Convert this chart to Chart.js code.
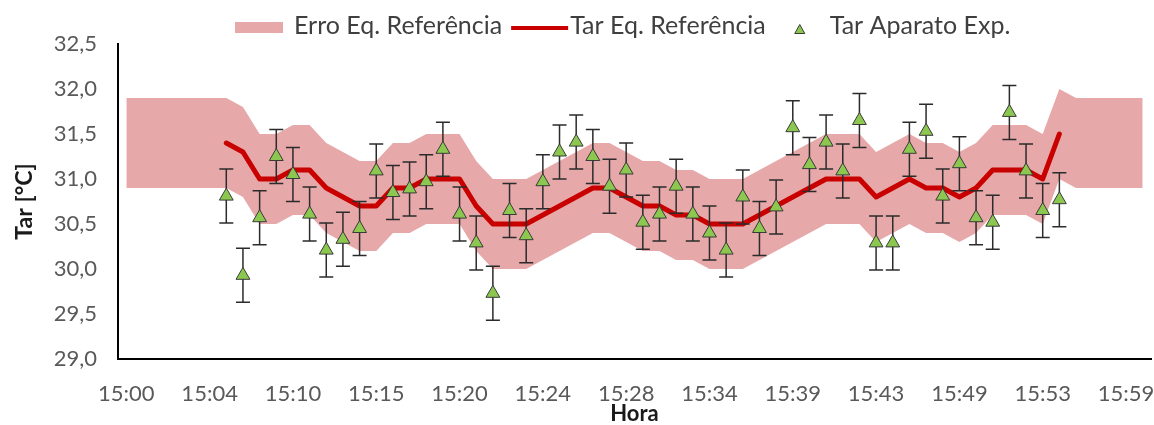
<!DOCTYPE html>
<html>
<head>
<meta charset="utf-8">
<title>Tar – Eq. Referência x Aparato Exp.</title>
<script src="https://cdn.jsdelivr.net/npm/chart.js@4.4.1/dist/chart.umd.min.js"></script>
<style>
  html, body { margin: 0; padding: 0; background: #fff; }
  #wrap { width: 1154px; height: 425px; }
</style>
</head>
<body>
<div id="wrap"><canvas id="chart" width="1154" height="425"></canvas></div>
<script>
// Time labels shown on the horizontal axis (one every 5 samples)
const tickLabels = ['15:00', '15:04', '15:10', '15:15', '15:20', '15:24', '15:28',
                    '15:34', '15:39', '15:43', '15:49', '15:53', '15:59'];
const samplesPerLabel = 5;
const sampleCount = 62;

// Sample at which both measurement series start
const firstSample = 6;

// Reference equipment air temperature (°C)
const refTemp = [31.4, 31.3, 31.0, 31.0, 31.1, 31.1, 30.9, 30.8, 30.7, 30.7,
                 30.9, 30.9, 31.0, 31.0, 31.0, 30.7, 30.5, 30.5, 30.5, 30.6,
                 30.7, 30.8, 30.9, 30.9, 30.8, 30.7, 30.7, 30.6, 30.6, 30.5,
                 30.5, 30.5, 30.6, 30.7, 30.8, 30.9, 31.0, 31.0, 31.0, 30.8,
                 30.9, 31.0, 30.9, 30.9, 30.8, 30.9, 31.1, 31.1, 31.1, 31.0,
                 31.5];

// Experimental apparatus air temperature (°C)
const expTemp = [30.81, 29.93, 30.57, 31.25, 31.05, 30.61, 30.21, 30.33, 30.45, 31.09,
                 30.85, 30.89, 30.97, 31.33, 30.61, 30.29, 29.73, 30.65, 30.37, 30.97,
                 31.30, 31.41, 31.25, 30.92, 31.10, 30.52, 30.61, 30.92, 30.61, 30.40,
                 30.21, 30.80, 30.45, 30.69, 31.57, 31.16, 31.41, 31.09, 31.65, 30.29,
                 30.29, 31.33, 31.53, 30.81, 31.17, 30.57, 30.52, 31.74, 31.09, 30.65,
                 30.77];

// Uncertainty of the experimental apparatus (± °C)
const expError = 0.3;

// Uncertainty band of the reference equipment (lower / upper limits, °C)
const bandLow = [30.9, 30.9, 30.9, 30.9, 30.9, 30.9,
                 30.9, 30.8, 30.5, 30.5, 30.6, 30.6, 30.4, 30.3, 30.2, 30.2,
                 30.4, 30.4, 30.5, 30.5, 30.5, 30.2, 30.0, 30.0, 30.0, 30.1,
                 30.2, 30.3, 30.4, 30.4, 30.3, 30.2, 30.2, 30.1, 30.1, 30.0,
                 30.0, 30.0, 30.1, 30.2, 30.3, 30.4, 30.5, 30.5, 30.5, 30.3,
                 30.4, 30.5, 30.4, 30.4, 30.3, 30.4, 30.6, 30.6, 30.6, 30.5,
                 31.0,
                 30.9, 30.9, 30.9, 30.9, 30.9];
const bandHigh = [31.9, 31.9, 31.9, 31.9, 31.9, 31.9,
                  31.9, 31.8, 31.5, 31.5, 31.6, 31.6, 31.4, 31.3, 31.2, 31.2,
                  31.4, 31.4, 31.5, 31.5, 31.5, 31.2, 31.0, 31.0, 31.0, 31.1,
                  31.2, 31.3, 31.4, 31.4, 31.3, 31.2, 31.2, 31.1, 31.1, 31.0,
                  31.0, 31.0, 31.1, 31.2, 31.3, 31.4, 31.5, 31.5, 31.5, 31.3,
                  31.4, 31.5, 31.4, 31.4, 31.3, 31.4, 31.6, 31.6, 31.6, 31.5,
                  32.0,
                  31.9, 31.9, 31.9, 31.9, 31.9];

// Legend entries, in display order
const legendEntries = [
  { text: 'Erro Eq. Referência', symbol: 'band' },
  { text: 'Tar Eq. Referência', symbol: 'line' },
  { text: 'Tar Aparato Exp.', symbol: 'mark' }
];

// Colours
const BAND_COLOR = '#E7A8AA';
const LINE_COLOR = '#C80000';
const MARK_COLOR = '#8CC84F';
const MARK_EDGE = '#3a3a3a';
const BAR_COLOR = '#2b2b2b';
const LEGEND_TEXT = '#3f3f3f';
const FONT = 'Lato, "Open Sans", sans-serif';

Chart.defaults.font.family = FONT;

const toPoints = (values, start) => values.map((v, i) => ({ x: start + i, y: v }));

function drawTriangle(ctx, cx, cy, w, h) {
  ctx.beginPath();
  ctx.moveTo(cx, cy - h / 2);
  ctx.lineTo(cx + w / 2, cy + h / 2);
  ctx.lineTo(cx - w / 2, cy + h / 2);
  ctx.closePath();
  ctx.fillStyle = MARK_COLOR;
  ctx.fill();
  ctx.strokeStyle = MARK_EDGE;
  ctx.lineWidth = 1;
  ctx.stroke();
}

// Vertical error bars with caps, drawn just below the triangle markers
const errorBars = {
  id: 'errorBars',
  beforeDatasetDraw(chart, args) {
    if (args.index !== 3) return;
    const { ctx, scales: { x, y } } = chart;
    const cap = 7;
    ctx.save();
    ctx.strokeStyle = BAR_COLOR;
    ctx.lineWidth = 1.5;
    ctx.beginPath();
    expTemp.forEach((v, i) => {
      const px = x.getPixelForValue(firstSample + i);
      const top = y.getPixelForValue(v + expError);
      const bot = y.getPixelForValue(v - expError);
      ctx.moveTo(px, top); ctx.lineTo(px, bot);
      ctx.moveTo(px - cap, top); ctx.lineTo(px + cap, top);
      ctx.moveTo(px - cap, bot); ctx.lineTo(px + cap, bot);
    });
    ctx.stroke();
    ctx.restore();
  }
};

// Single-row legend above the plot: swatch, line sample and marker sample
const topLegend = {
  id: 'topLegend',
  afterDraw(chart) {
    const ctx = chart.ctx;
    ctx.save();
    ctx.font = '25px ' + FONT;
    ctx.fillStyle = LEGEND_TEXT;
    ctx.textBaseline = 'alphabetic';
    const baseY = 34;
    let x = 235;
    legendEntries.forEach((entry) => {
      if (entry.symbol === 'band') {
        ctx.fillStyle = BAND_COLOR;
        ctx.fillRect(x, 22, 48, 11);
        x += 48 + 11;
      } else if (entry.symbol === 'line') {
        x += 9;
        ctx.fillStyle = LINE_COLOR;
        ctx.fillRect(x, 26, 57, 4);
        x += 57 + 2;
      } else {
        x += 34;
        drawTriangle(ctx, x, 29, 10, 9);
        x += 30;
      }
      ctx.fillStyle = LEGEND_TEXT;
      ctx.fillText(entry.text, x, baseY);
      x += ctx.measureText(entry.text).width;
    });
    ctx.restore();
  }
};

new Chart(document.getElementById('chart'), {
  type: 'line',
  data: {
    datasets: [
      {
        label: 'Limite inferior',
        data: toPoints(bandLow, 0),
        borderColor: 'transparent',
        borderWidth: 0,
        pointRadius: 0,
        fill: false,
        tension: 0,
        order: 4
      },
      {
        label: 'Erro Eq. Referência',
        data: toPoints(bandHigh, 0),
        borderColor: 'transparent',
        borderWidth: 0,
        pointRadius: 0,
        backgroundColor: BAND_COLOR,
        fill: '-1',
        tension: 0,
        order: 3
      },
      {
        label: 'Tar Eq. Referência',
        data: toPoints(refTemp, firstSample),
        borderColor: LINE_COLOR,
        borderWidth: 5,
        borderJoinStyle: 'round',
        borderCapStyle: 'round',
        pointRadius: 0,
        fill: false,
        tension: 0,
        order: 2
      },
      {
        label: 'Tar Aparato Exp.',
        data: toPoints(expTemp, firstSample),
        showLine: false,
        pointStyle: 'triangle',
        pointRadius: 8,
        pointHoverRadius: 8,
        backgroundColor: MARK_COLOR,
        borderColor: MARK_EDGE,
        borderWidth: 1,
        order: 1
      }
    ]
  },
  options: {
    responsive: false,
    animation: false,
    events: [],
    layout: {
      autoPadding: false,
      padding: { top: 44, right: 3, bottom: 0, left: 0 }
    },
    plugins: {
      tooltip: { enabled: false },
      legend: { display: false }
    },
    scales: {
      x: {
        type: 'linear',
        min: -0.5,
        max: sampleCount - 0.5,
        afterBuildTicks: (scale) => {
          scale.ticks = tickLabels.map((_, i) => ({ value: i * samplesPerLabel }));
        },
        afterFit: (scale) => {
          scale.height = 66;
          scale.paddingLeft = 0;
          scale.paddingRight = 0;
        },
        ticks: {
          autoSkip: false,
          maxRotation: 0,
          color: '#595959',
          font: { size: 22 },
          padding: 22,
          callback: (value, index) => tickLabels[index]
        },
        grid: { display: false, drawTicks: false },
        border: { display: true, color: '#000', width: 2 },
        title: {
          display: true,
          text: 'Hora',
          color: '#1a1a1a',
          font: { size: 22, weight: 'bold', lineHeight: 1 },
          padding: { top: 0, bottom: 0 }
        }
      },
      y: {
        min: 29,
        max: 32.5,
        afterFit: (scale) => {
          scale.width = 118;
          scale.paddingTop = 0;
          scale.paddingBottom = 0;
        },
        ticks: {
          stepSize: 0.5,
          color: '#595959',
          font: { size: 22 },
          padding: 21,
          callback: (value) => value.toFixed(1).replace('.', ',')
        },
        grid: { display: false, drawTicks: false },
        border: { display: true, color: '#000', width: 2 },
        title: {
          display: true,
          text: 'Tar [°C]',
          color: '#1a1a1a',
          font: { size: 23, weight: 'bold', lineHeight: 1 },
          padding: { top: 13, bottom: 0 }
        }
      }
    }
  },
  plugins: [errorBars, topLegend]
});
</script>
</body>
</html>
